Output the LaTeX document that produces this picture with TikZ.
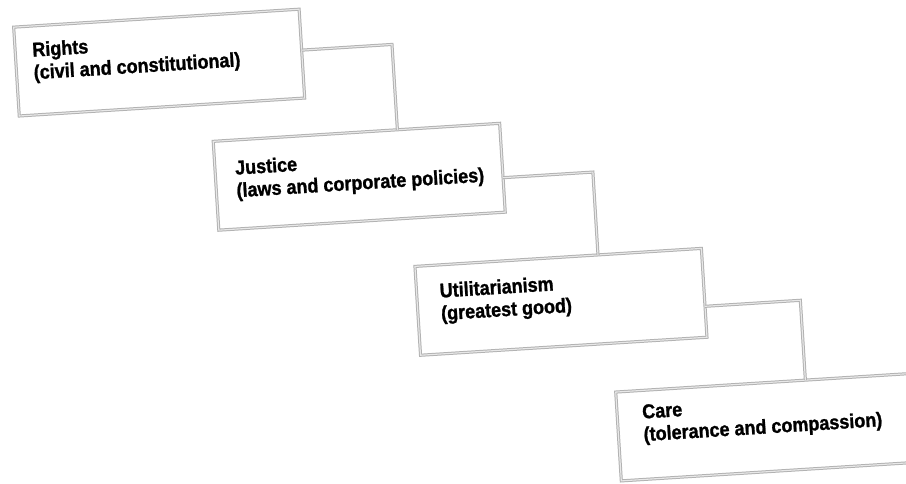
\documentclass[tikz,border=0pt]{standalone}
\usepackage{fontspec}
\newfontfamily\lblfont{Liberation Sans}[FakeStretch=0.9, BoldFeatures={FakeBold=1.2}]
\usetikzlibrary{calc}
\begin{document}
\begin{tikzpicture}[x=1pt,y=1pt,
  boxstyle/.style={draw=gray!60, double=gray!18, double distance=1.1pt, line width=1pt, rectangle, inner sep=0pt, outer sep=0pt, anchor=south west, minimum height=89pt},
  conn/.style={draw=gray!60, double=gray!18, double distance=1.1pt, line width=1pt},
  lbl/.style={anchor=north west, inner sep=0pt, align=left, font=\lblfont\bfseries\fontsize{20}{22.6}\selectfont}]
\useasboundingbox (0,0) rectangle (906,484);
\fill[white] (0,0) rectangle (906,484);
\clip (0,0) rectangle (906,484);
\begin{scope}[rotate around={3.6:(453,242)}, transform shape]
  \node[boxstyle, minimum width=286pt] (r1) at (28,395) {};
  \node[boxstyle, minimum width=287pt] (r2) at (220,268.5) {};
  \node[boxstyle, minimum width=287pt] (r3) at (413.5,131) {};
  \node[boxstyle, minimum width=310pt] (r4) at (606,-7) {};
  \node[lbl] (t1) at (45,468) {Rights\\(civil and constitutional)};
  \node[lbl] (t2) at (240,337.5) {Justice\\(laws and corporate policies)};
  \node[lbl] (t3) at (436.5,202) {Utilitarianism\\(greatest good)};
  \node[lbl] (t4) at (631,68) {Care\\(tolerance and compassion)};
  \coordinate (k1) at (404.5,443);
  \coordinate (k2) at (597,303);
  \coordinate (k3) at (796,162);
\end{scope}
\draw[conn] ($(r1.south east)!0.539!(r1.north east)$) -- (k1) -- ($(r2.north west)!0.643!(r2.north east)$);
\draw[conn] ($(r2.south east)!0.388!(r2.north east)$) -- (k2) -- ($(r3.north west)!0.639!(r3.north east)$);
\draw[conn] ($(r3.south east)!0.348!(r3.north east)$) -- (k3) -- ($(r4.north west)!0.613!(r4.north east)$);
\end{tikzpicture}
\end{document}
